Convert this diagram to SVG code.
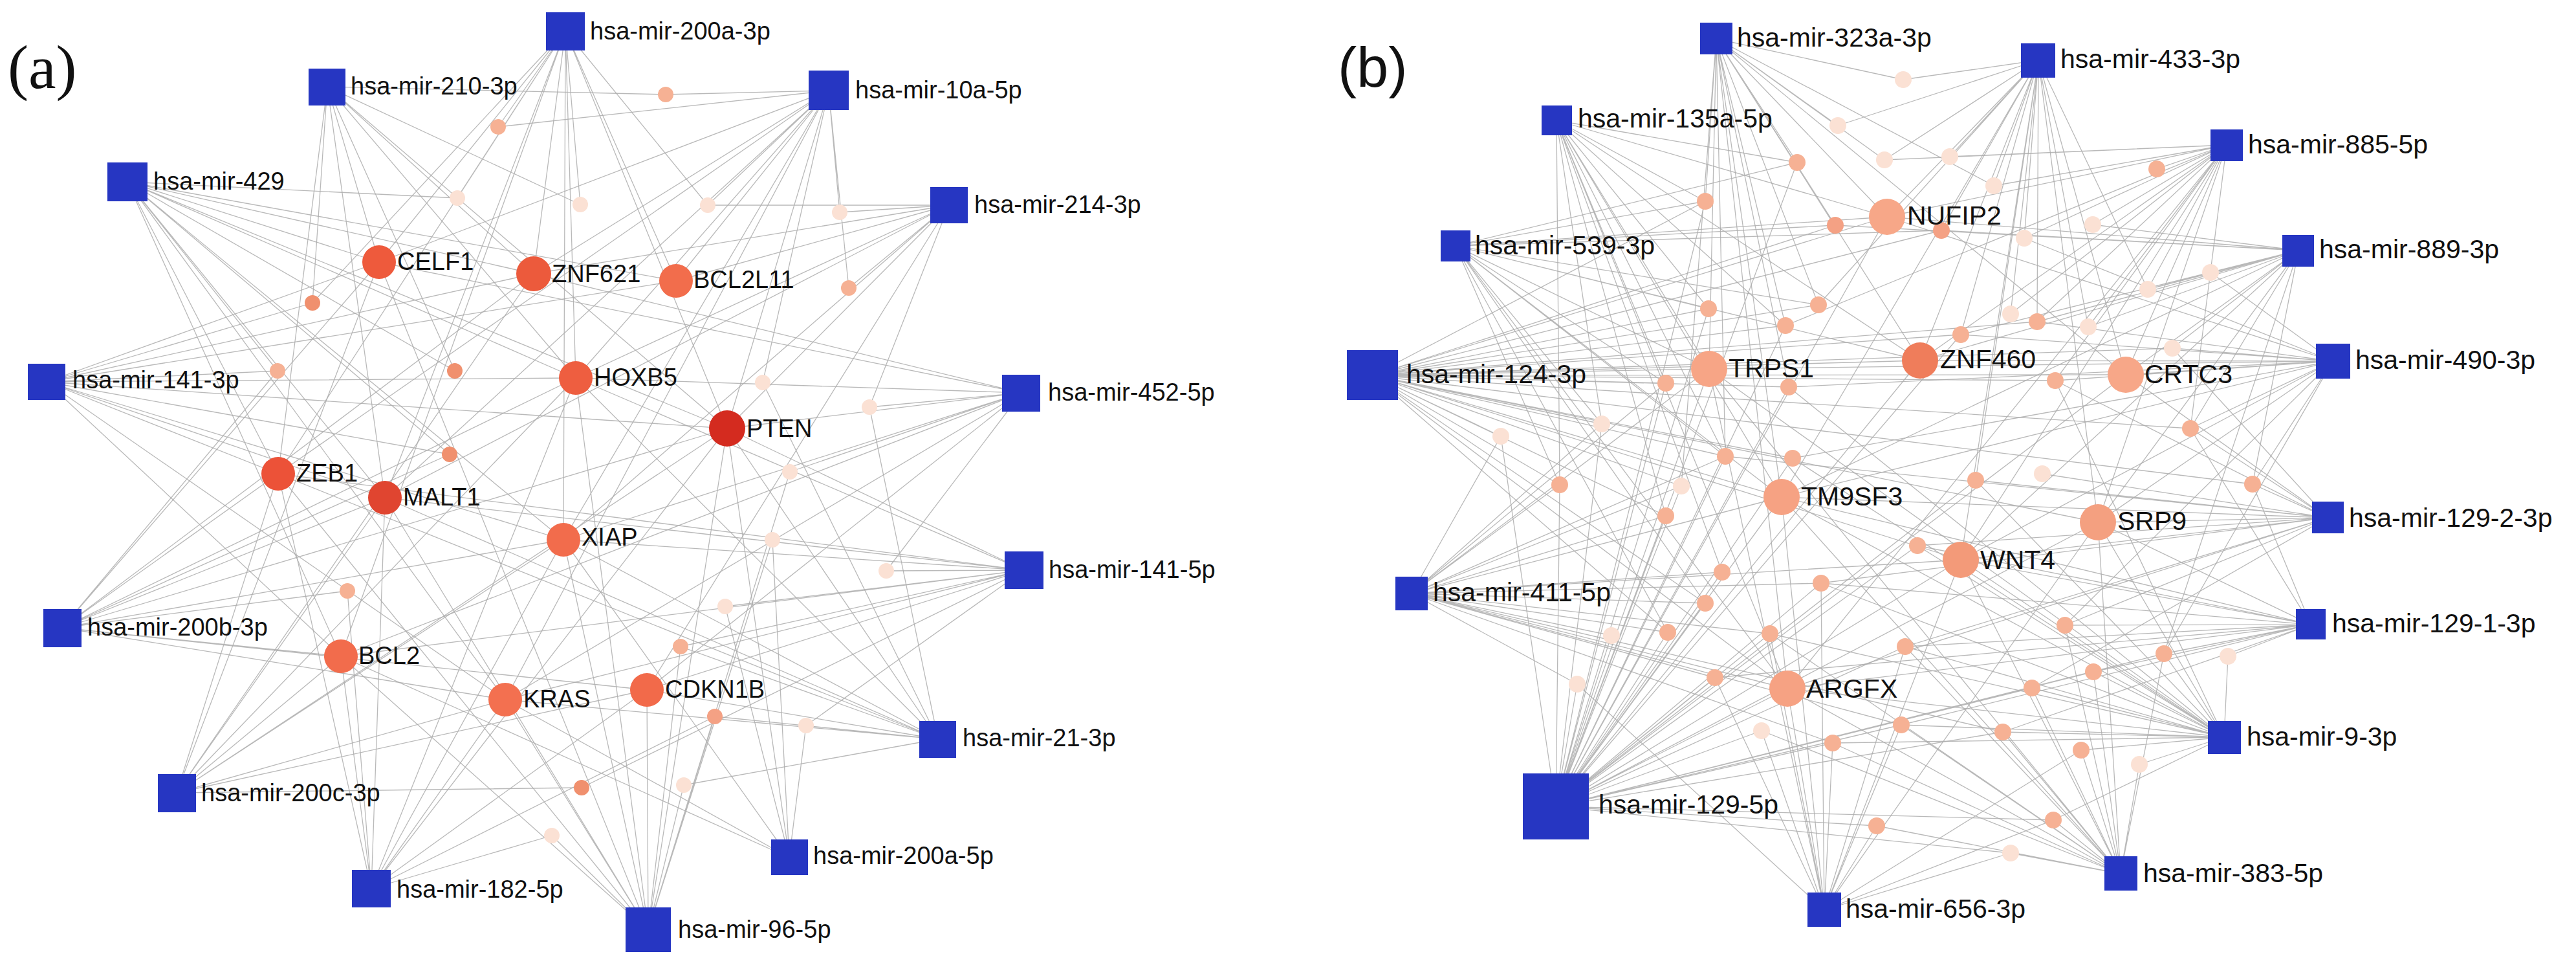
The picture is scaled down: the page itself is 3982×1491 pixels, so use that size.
<svg xmlns="http://www.w3.org/2000/svg" width="3982" height="1491" viewBox="0 0 3982 1491">
<style>
.e{stroke:#adadad;stroke-width:1.3;fill:none;opacity:.85}
.sq{fill:#2636c2}
.la{font-family:"Liberation Sans",Arial,sans-serif;font-size:38px;fill:#111}
.lb{font-family:"Liberation Sans",Arial,sans-serif;font-size:41px;fill:#111}
.vl{fill:#fbe1d4}.ls{fill:#f6b194}.sm{fill:#f0906e}.md{fill:#f4a184}
</style>
<rect width="3982" height="1491" fill="#fff"/>
<text x="12" y="136" font-family="Liberation Serif,Times New Roman,serif" font-size="96" fill="#111">(a)</text>
<text x="2068" y="134" font-family="Liberation Sans,Arial,sans-serif" font-size="88" fill="#111">(b)</text>
<g id="connectors">
<path class="e" d="M874 48L770 196M874 48L707 306M874 48L897 316M874 48L483 468M874 48L1094 317M874 48L586 405M874 48L825 423M874 48L1045 434M874 48L890 584M874 48L1124 662M874 48L430 732M874 48L595 769M874 48L871 834M874 48L527 1014"/>
<path class="e" d="M506 134L897 316M506 134L483 468M506 134L703 573M506 134L1029 146M506 134L586 405M506 134L825 423M506 134L890 584M506 134L1124 662M506 134L430 732M506 134L595 769"/>
<path class="e" d="M1281 140L770 196M1281 140L1029 146M1281 140L1094 317M1281 140L1298 328M1281 140L1312 445M1281 140L1179 591M1281 140L586 405M1281 140L825 423M1281 140L1045 434M1281 140L890 584M1281 140L1124 662M1281 140L430 732M1281 140L595 769M1281 140L871 834M1281 140L781 1081"/>
<path class="e" d="M197 281L707 306M197 281L429 573M197 281L703 573M197 281L695 702M197 281L586 405M197 281L825 423M197 281L1045 434M197 281L890 584M197 281L1124 662M197 281L430 732M197 281L595 769M197 281L871 834M197 281L527 1014M197 281L781 1081"/>
<path class="e" d="M1467 317L1094 317M1467 317L1298 328M1467 317L1312 445M1467 317L1344 629M1467 317L825 423M1467 317L1045 434M1467 317L890 584M1467 317L1124 662M1467 317L595 769M1467 317L871 834M1467 317L1000 1066"/>
<path class="e" d="M72 590L483 468M72 590L429 573M72 590L695 702M72 590L586 405M72 590L825 423M72 590L1045 434M72 590L890 584M72 590L1124 662M72 590L430 732M72 590L595 769M72 590L871 834M72 590L527 1014M72 590L781 1081"/>
<path class="e" d="M1579 607L1344 629M1579 607L1221 729M1579 607L1370 882M1579 607L586 405M1579 607L825 423M1579 607L890 584M1579 607L1124 662M1579 607L871 834M1579 607L527 1014M1579 607L781 1081M1579 607L1000 1066"/>
<path class="e" d="M1583 881L899 1217M1583 881L1370 882M1583 881L1121 937M1583 881L1052 999M1583 881L1246 1121M1583 881L890 584M1583 881L1124 662M1583 881L430 732M1583 881L595 769M1583 881L871 834M1583 881L527 1014M1583 881L781 1081M1583 881L1000 1066"/>
<path class="e" d="M96 970L429 573M96 970L695 702M96 970L537 913M96 970L586 405M96 970L825 423M96 970L890 584M96 970L1124 662M96 970L430 732M96 970L595 769M96 970L871 834M96 970L527 1014M96 970L781 1081M96 970L1000 1066"/>
<path class="e" d="M1450 1142L1179 591M1450 1142L1344 629M1450 1142L1052 999M1450 1142L1105 1107M1450 1142L1057 1213M1450 1142L890 584M1450 1142L1124 662M1450 1142L430 732M1450 1142L595 769M1450 1142L871 834M1450 1142L781 1081M1450 1142L1000 1066"/>
<path class="e" d="M273 1225L899 1217M273 1225L586 405M273 1225L825 423M273 1225L890 584M273 1225L1124 662M273 1225L430 732M273 1225L595 769M273 1225L871 834M273 1225L527 1014M273 1225L781 1081M273 1225L1000 1066"/>
<path class="e" d="M1220 1325L1194 834M1220 1325L1121 937M1220 1325L1246 1121M1220 1325L1124 662M1220 1325L871 834M1220 1325L527 1014M1220 1325L781 1081"/>
<path class="e" d="M574 1373L537 913M574 1373L853 1291M574 1373L1105 1107M574 1373L890 584M574 1373L1124 662M574 1373L430 732M574 1373L595 769M574 1373L871 834M574 1373L527 1014M574 1373L781 1081M574 1373L1000 1066"/>
<path class="e" d="M1002 1437L1221 729M1002 1437L853 1291M1002 1437L1194 834M1002 1437L1052 999M1002 1437L1105 1107M1002 1437L1057 1213M1002 1437L586 405M1002 1437L890 584M1002 1437L1124 662M1002 1437L430 732M1002 1437L595 769M1002 1437L871 834M1002 1437L527 1014M1002 1437L781 1081M1002 1437L1000 1066"/>
<path class="e" d="M2653 60L2942 123M2653 60L2841 194M2653 60L2778 251M2653 60L2913 247M2653 60L2636 311M2653 60L2837 348M2653 60L2811 471M2653 60L2760 503M2653 60L2765 598M2653 60L2667 705M2653 60L2599 751M2653 60L3082 287M2653 60L2917 335M2653 60L2642 570M2653 60L2968 557M2653 60L2754 768M2653 60L3286 579M2653 60L2763 1064"/>
<path class="e" d="M3151 93L2942 123M3151 93L2841 194M3151 93L2913 247M3151 93L3014 242M3151 93L3082 287M3151 93L3001 356M3151 93L3129 368M3151 93L3320 447M3151 93L3108 485M3151 93L3149 497M3151 93L3228 505M3151 93L3031 517M3151 93L2811 471M3151 93L3054 742M3151 93L2917 335M3151 93L2968 557M3151 93L2754 768M3151 93L3031 865M3151 93L3243 807M3151 93L3286 579"/>
<path class="e" d="M2406 186L2778 251M2406 186L2636 311M2406 186L2641 477M2406 186L2760 503M2406 186L2575 592M2406 186L2476 655M2406 186L2667 705M2406 186L2411 749M2406 186L2575 797M2406 186L2662 884M2406 186L2917 335M2406 186L2642 570M2406 186L2968 557M2406 186L2754 768M2406 186L2763 1064"/>
<path class="e" d="M3442 224L2913 247M3442 224L2760 503M3442 224L3014 242M3442 224L3082 287M3442 224L3334 261M3442 224L3235 347M3442 224L3129 368M3442 224L3320 447M3442 224L3108 485M3442 224L3149 497M3442 224L3228 505M3442 224L3177 588M3442 224L3386 662M3442 224L2917 335M3442 224L2968 557M3442 224L3286 579M3442 224L3031 865M3442 224L3243 807M3442 224L2763 1064"/>
<path class="e" d="M2250 380L2778 251M2250 380L2636 311M2250 380L2837 348M2250 380L2641 477M2250 380L2811 471M2250 380L2575 592M2250 380L2476 655M2250 380L2667 705M2250 380L2411 749M2250 380L3001 356M2250 380L2636 932M2250 380L2578 977M2250 380L2917 335M2250 380L2642 570M2250 380L2968 557M2250 380L2754 768M2250 380L2763 1064"/>
<path class="e" d="M3553 387L2837 348M3553 387L3001 356M3553 387L3235 347M3553 387L3417 421M3553 387L3320 447M3553 387L3149 497M3553 387L3228 505M3553 387L3031 517M3553 387L3358 538M3553 387L3386 662M3553 387L3482 748M3553 387L3345 1010M3553 387L2917 335M3553 387L2968 557M3553 387L3286 579M3553 387L3243 807M3553 387L3031 865M3553 387L2754 768"/>
<path class="e" d="M2122 580L2636 311M2122 580L2837 348M2122 580L2641 477M2122 580L2811 471M2122 580L2760 503M2122 580L2575 592M2122 580L2765 598M2122 580L2476 655M2122 580L2320 674M2122 580L2667 705M2122 580L2771 708M2122 580L2411 749M2122 580L2599 751M2122 580L3001 356M2122 580L3149 497M2122 580L3031 517M2122 580L3358 538M2122 580L3177 588M2122 580L3386 662M2122 580L3482 748M2122 580L2575 797M2122 580L2636 932M2122 580L2578 977M2122 580L2917 335M2122 580L2642 570M2122 580L2968 557M2122 580L3286 579M2122 580L2754 768M2122 580L3031 865M2122 580L3243 807M2122 580L2763 1064"/>
<path class="e" d="M3606 558L2765 598M3606 558L2771 708M3606 558L3129 368M3606 558L3417 421M3606 558L3149 497M3606 558L3031 517M3606 558L3358 538M3606 558L3177 588M3606 558L3386 662M3606 558L3482 748M3606 558L3192 966M3606 558L3345 1010M3606 558L2917 335M3606 558L2642 570M3606 558L2968 557M3606 558L3286 579M3606 558L2754 768M3606 558L3243 807M3606 558L3031 865"/>
<path class="e" d="M3598 800L2667 705M3598 800L3358 538M3598 800L3177 588M3598 800L3386 662M3598 800L3054 742M3598 800L3157 732M3598 800L3482 748M3598 800L2964 843M3598 800L2815 901M3598 800L2945 999M3598 800L3192 966M3598 800L3141 1063M3598 800L3286 579M3598 800L2754 768M3598 800L3243 807M3598 800L3031 865M3598 800L2763 1064"/>
<path class="e" d="M2182 917L2575 592M2182 917L2476 655M2182 917L2320 674M2182 917L2667 705M2182 917L2411 749M2182 917L2599 751M2182 917L2575 797M2182 917L2662 884M2182 917L2815 901M2182 917L2636 932M2182 917L2491 982M2182 917L2578 977M2182 917L2736 979M2182 917L2438 1057M2182 917L2651 1047M2182 917L2939 1120M2182 917L2833 1148M2182 917L3096 1131M2182 917L2642 570M2182 917L2754 768M2182 917L3031 865M2182 917L2763 1064"/>
<path class="e" d="M3572 965L3386 662M3572 965L3482 748M3572 965L2964 843M3572 965L2815 901M3572 965L2945 999M3572 965L2651 1047M3572 965L2939 1120M3572 965L3192 966M3572 965L3345 1010M3572 965L3444 1014M3572 965L3236 1038M3572 965L3096 1131M3572 965L2754 768M3572 965L3243 807M3572 965L3031 865M3572 965L2763 1064"/>
<path class="e" d="M3438 1139L2765 598M3438 1139L2771 708M3438 1139L3177 588M3438 1139L3054 742M3438 1139L2964 843M3438 1139L2815 901M3438 1139L2736 979M3438 1139L2945 999M3438 1139L2939 1120M3438 1139L2833 1148M3438 1139L3345 1010M3438 1139L3444 1014M3438 1139L3236 1038M3438 1139L3141 1063M3438 1139L3096 1131M3438 1139L3217 1159M3438 1139L3307 1181M3438 1139L3174 1267M3438 1139L2642 570M3438 1139L2754 768M3438 1139L3243 807M3438 1139L3031 865M3438 1139L2763 1064"/>
<path class="e" d="M2405 1246L2778 251M2405 1246L2636 311M2405 1246L2641 477M2405 1246L2760 503M2405 1246L2575 592M2405 1246L2765 598M2405 1246L2476 655M2405 1246L2320 674M2405 1246L2667 705M2405 1246L2771 708M2405 1246L2411 749M2405 1246L2599 751M2405 1246L3031 517M2405 1246L3054 742M2405 1246L2575 797M2405 1246L2964 843M2405 1246L2662 884M2405 1246L2815 901M2405 1246L2636 932M2405 1246L2491 982M2405 1246L2578 977M2405 1246L2736 979M2405 1246L2945 999M2405 1246L2438 1057M2405 1246L2651 1047M2405 1246L2723 1129M2405 1246L2939 1120M2405 1246L2833 1148M2405 1246L2901 1276M2405 1246L3345 1010M2405 1246L3236 1038M2405 1246L3141 1063M2405 1246L3096 1131M2405 1246L3174 1267M2405 1246L3108 1318M2405 1246L2917 335M2405 1246L2642 570M2405 1246L2968 557M2405 1246L3286 579M2405 1246L2754 768M2405 1246L3243 807M2405 1246L3031 865M2405 1246L2763 1064"/>
<path class="e" d="M3278 1350L2736 979M3278 1350L2945 999M3278 1350L2723 1129M3278 1350L2939 1120M3278 1350L2833 1148M3278 1350L2901 1276M3278 1350L3192 966M3278 1350L3345 1010M3278 1350L3236 1038M3278 1350L3141 1063M3278 1350L3096 1131M3278 1350L3217 1159M3278 1350L3307 1181M3278 1350L3174 1267M3278 1350L3108 1318M3278 1350L2642 570M3278 1350L2754 768M3278 1350L3243 807M3278 1350L3031 865M3278 1350L2763 1064"/>
<path class="e" d="M2820 1406L2815 901M2820 1406L2736 979M2820 1406L2945 999M2820 1406L2438 1057M2820 1406L2651 1047M2820 1406L2723 1129M2820 1406L2939 1120M2820 1406L2833 1148M2820 1406L2901 1276M2820 1406L3217 1159M2820 1406L3174 1267M2820 1406L3108 1318M2820 1406L2642 570M2820 1406L2754 768M2820 1406L3243 807M2820 1406L3031 865M2820 1406L2763 1064"/>
</g>
<g id="small-a">
<circle class="ls" cx="770" cy="196" r="12"/><circle class="vl" cx="707" cy="306" r="12"/><circle class="vl" cx="897" cy="316" r="12"/><circle class="sm" cx="483" cy="468" r="12"/><circle class="ls" cx="429" cy="573" r="12"/><circle class="sm" cx="703" cy="573" r="12"/><circle class="sm" cx="695" cy="702" r="12"/><circle class="ls" cx="1029" cy="146" r="12"/><circle class="vl" cx="1094" cy="317" r="12"/><circle class="vl" cx="1298" cy="328" r="12"/><circle class="ls" cx="1312" cy="445" r="12"/><circle class="vl" cx="1179" cy="591" r="12"/><circle class="vl" cx="1344" cy="629" r="12"/><circle class="vl" cx="1221" cy="729" r="12"/><circle class="ls" cx="537" cy="913" r="12"/><circle class="sm" cx="899" cy="1217" r="12"/><circle class="vl" cx="853" cy="1291" r="12"/><circle class="vl" cx="1194" cy="834" r="12"/><circle class="vl" cx="1370" cy="882" r="12"/><circle class="vl" cx="1121" cy="937" r="12"/><circle class="ls" cx="1052" cy="999" r="12"/><circle class="md" cx="1105" cy="1107" r="12"/><circle class="vl" cx="1246" cy="1121" r="12"/><circle class="vl" cx="1057" cy="1213" r="12"/>
</g>
<g id="small-b">
<circle class="vl" cx="2942" cy="123" r="13"/><circle class="vl" cx="2841" cy="194" r="13"/><circle class="ls" cx="2778" cy="251" r="13"/><circle class="vl" cx="2913" cy="247" r="13"/><circle class="ls" cx="2636" cy="311" r="13"/><circle class="md" cx="2837" cy="348" r="13"/><circle class="ls" cx="2641" cy="477" r="13"/><circle class="ls" cx="2811" cy="471" r="13"/><circle class="ls" cx="2760" cy="503" r="13"/><circle class="ls" cx="2575" cy="592" r="13"/><circle class="ls" cx="2765" cy="598" r="13"/><circle class="vl" cx="2476" cy="655" r="13"/><circle class="vl" cx="2320" cy="674" r="13"/><circle class="ls" cx="2667" cy="705" r="13"/><circle class="ls" cx="2771" cy="708" r="13"/><circle class="ls" cx="2411" cy="749" r="13"/><circle class="vl" cx="2599" cy="751" r="13"/><circle class="vl" cx="3014" cy="242" r="13"/><circle class="vl" cx="3082" cy="287" r="13"/><circle class="ls" cx="3334" cy="261" r="13"/><circle class="md" cx="3001" cy="356" r="13"/><circle class="vl" cx="3235" cy="347" r="13"/><circle class="vl" cx="3129" cy="368" r="13"/><circle class="vl" cx="3417" cy="421" r="13"/><circle class="vl" cx="3320" cy="447" r="13"/><circle class="vl" cx="3108" cy="485" r="13"/><circle class="ls" cx="3149" cy="497" r="13"/><circle class="vl" cx="3228" cy="505" r="13"/><circle class="ls" cx="3031" cy="517" r="13"/><circle class="vl" cx="3358" cy="538" r="13"/><circle class="ls" cx="3177" cy="588" r="13"/><circle class="ls" cx="3386" cy="662" r="13"/><circle class="ls" cx="3054" cy="742" r="13"/><circle class="vl" cx="3157" cy="732" r="13"/><circle class="ls" cx="3482" cy="748" r="13"/><circle class="ls" cx="2575" cy="797" r="13"/><circle class="ls" cx="2964" cy="843" r="13"/><circle class="ls" cx="2662" cy="884" r="13"/><circle class="ls" cx="2815" cy="901" r="13"/><circle class="ls" cx="2636" cy="932" r="13"/><circle class="vl" cx="2491" cy="982" r="13"/><circle class="ls" cx="2578" cy="977" r="13"/><circle class="ls" cx="2736" cy="979" r="13"/><circle class="ls" cx="2945" cy="999" r="13"/><circle class="vl" cx="2438" cy="1057" r="13"/><circle class="ls" cx="2651" cy="1047" r="13"/><circle class="vl" cx="2723" cy="1129" r="13"/><circle class="ls" cx="2939" cy="1120" r="13"/><circle class="ls" cx="2833" cy="1148" r="13"/><circle class="ls" cx="2901" cy="1276" r="13"/><circle class="ls" cx="3192" cy="966" r="13"/><circle class="ls" cx="3345" cy="1010" r="13"/><circle class="vl" cx="3444" cy="1014" r="13"/><circle class="ls" cx="3236" cy="1038" r="13"/><circle class="ls" cx="3141" cy="1063" r="13"/><circle class="ls" cx="3096" cy="1131" r="13"/><circle class="ls" cx="3217" cy="1159" r="13"/><circle class="vl" cx="3307" cy="1181" r="13"/><circle class="ls" cx="3174" cy="1267" r="13"/><circle class="vl" cx="3108" cy="1318" r="13"/>
</g>
<g id="CELF1"><circle cx="586" cy="405" r="26" fill="#ee5a3c"/><text class="la" x="614" y="417">CELF1</text></g>
<g id="ZNF621"><circle cx="825" cy="423" r="27" fill="#ec5a3c"/><text class="la" x="853" y="436">ZNF621</text></g>
<g id="BCL2L11"><circle cx="1045" cy="434" r="26" fill="#f26d4c"/><text class="la" x="1072" y="445">BCL2L11</text></g>
<g id="HOXB5"><circle cx="890" cy="584" r="26" fill="#ee5e40"/><text class="la" x="918" y="596">HOXB5</text></g>
<g id="PTEN"><circle cx="1124" cy="662" r="28" fill="#d42b1f"/><text class="la" x="1154" y="675">PTEN</text></g>
<g id="ZEB1"><circle cx="430" cy="732" r="26" fill="#ec5238"/><text class="la" x="458" y="744">ZEB1</text></g>
<g id="MALT1"><circle cx="595" cy="769" r="26" fill="#e04530"/><text class="la" x="623" y="781">MALT1</text></g>
<g id="XIAP"><circle cx="871" cy="834" r="26" fill="#f26c4c"/><text class="la" x="899" y="843">XIAP</text></g>
<g id="BCL2"><circle cx="527" cy="1014" r="26" fill="#f26c4c"/><text class="la" x="554" y="1026">BCL2</text></g>
<g id="KRAS"><circle cx="781" cy="1081" r="26" fill="#f37050"/><text class="la" x="809" y="1093">KRAS</text></g>
<g id="CDKN1B"><circle cx="1000" cy="1066" r="26" fill="#f26a4a"/><text class="la" x="1028" y="1078">CDKN1B</text></g>
<g id="mir-200a-3p"><rect class="sq" x="844" y="19" width="60" height="59"/><text class="la" x="912" y="61">hsa-mir-200a-3p</text></g>
<g id="mir-210-3p"><rect class="sq" x="477" y="106" width="57" height="57"/><text class="la" x="542" y="146">hsa-mir-210-3p</text></g>
<g id="mir-10a-5p"><rect class="sq" x="1250" y="109" width="62" height="61"/><text class="la" x="1322" y="152">hsa-mir-10a-5p</text></g>
<g id="mir-429"><rect class="sq" x="166" y="251" width="62" height="60"/><text class="la" x="237" y="293">hsa-mir-429</text></g>
<g id="mir-214-3p"><rect class="sq" x="1438" y="289" width="58" height="56"/><text class="la" x="1506" y="329">hsa-mir-214-3p</text></g>
<g id="mir-141-3p"><rect class="sq" x="43" y="562" width="58" height="56"/><text class="la" x="112" y="600">hsa-mir-141-3p</text></g>
<g id="mir-452-5p"><rect class="sq" x="1549" y="579" width="59" height="57"/><text class="la" x="1620" y="619">hsa-mir-452-5p</text></g>
<g id="mir-141-5p"><rect class="sq" x="1553" y="852" width="60" height="58"/><text class="la" x="1621" y="893">hsa-mir-141-5p</text></g>
<g id="mir-200b-3p"><rect class="sq" x="67" y="941" width="59" height="59"/><text class="la" x="135" y="982">hsa-mir-200b-3p</text></g>
<g id="mir-21-3p"><rect class="sq" x="1421" y="1114" width="57" height="57"/><text class="la" x="1488" y="1153">hsa-mir-21-3p</text></g>
<g id="mir-200c-3p"><rect class="sq" x="244" y="1196" width="59" height="59"/><text class="la" x="311" y="1238">hsa-mir-200c-3p</text></g>
<g id="mir-200a-5p"><rect class="sq" x="1192" y="1297" width="57" height="55"/><text class="la" x="1257" y="1335">hsa-mir-200a-5p</text></g>
<g id="mir-182-5p"><rect class="sq" x="544" y="1344" width="60" height="58"/><text class="la" x="613" y="1387">hsa-mir-182-5p</text></g>
<g id="mir-96-5p"><rect class="sq" x="967" y="1402" width="70" height="69"/><text class="la" x="1048" y="1449">hsa-mir-96-5p</text></g>
<g id="NUFIP2"><circle cx="2917" cy="335" r="28" fill="#f7a788"/><text class="lb" x="2948" y="347">NUFIP2</text></g>
<g id="TRPS1"><circle cx="2642" cy="570" r="28" fill="#f7a586"/><text class="lb" x="2672" y="583">TRPS1</text></g>
<g id="ZNF460"><circle cx="2968" cy="557" r="28" fill="#ef7d5b"/><text class="lb" x="2999" y="569">ZNF460</text></g>
<g id="CRTC3"><circle cx="3286" cy="579" r="28" fill="#f7a788"/><text class="lb" x="3315" y="592">CRTC3</text></g>
<g id="TM9SF3"><circle cx="2754" cy="768" r="28" fill="#f6a283"/><text class="lb" x="2784" y="781">TM9SF3</text></g>
<g id="SRP9"><circle cx="3243" cy="807" r="28" fill="#f4a080"/><text class="lb" x="3273" y="819">SRP9</text></g>
<g id="WNT4"><circle cx="3031" cy="865" r="28" fill="#f39a79"/><text class="lb" x="3061" y="879">WNT4</text></g>
<g id="ARGFX"><circle cx="2763" cy="1064" r="28" fill="#f6a283"/><text class="lb" x="2792" y="1078">ARGFX</text></g>
<g id="mir-323a-3p"><rect class="sq" x="2628" y="35" width="50" height="49"/><text class="lb" x="2685" y="72">hsa-mir-323a-3p</text></g>
<g id="mir-433-3p"><rect class="sq" x="3124" y="67" width="53" height="53"/><text class="lb" x="3185" y="105">hsa-mir-433-3p</text></g>
<g id="mir-135a-5p"><rect class="sq" x="2383" y="163" width="47" height="46"/><text class="lb" x="2439" y="197">hsa-mir-135a-5p</text></g>
<g id="mir-885-5p"><rect class="sq" x="3417" y="200" width="50" height="49"/><text class="lb" x="3475" y="237">hsa-mir-885-5p</text></g>
<g id="mir-539-3p"><rect class="sq" x="2227" y="356" width="46" height="48"/><text class="lb" x="2280" y="393">hsa-mir-539-3p</text></g>
<g id="mir-889-3p"><rect class="sq" x="3528" y="363" width="49" height="49"/><text class="lb" x="3585" y="399">hsa-mir-889-3p</text></g>
<g id="mir-124-3p"><rect class="sq" x="2082" y="541" width="79" height="77"/><text class="lb" x="2174" y="592">hsa-mir-124-3p</text></g>
<g id="mir-490-3p"><rect class="sq" x="3580" y="531" width="53" height="54"/><text class="lb" x="3641" y="570">hsa-mir-490-3p</text></g>
<g id="mir-129-2-3p"><rect class="sq" x="3574" y="775" width="49" height="49"/><text class="lb" x="3631" y="814">hsa-mir-129-2-3p</text></g>
<g id="mir-411-5p"><rect class="sq" x="2157" y="891" width="50" height="52"/><text class="lb" x="2215" y="929">hsa-mir-411-5p</text></g>
<g id="mir-129-1-3p"><rect class="sq" x="3549" y="941" width="46" height="47"/><text class="lb" x="3605" y="977">hsa-mir-129-1-3p</text></g>
<g id="mir-9-3p"><rect class="sq" x="3413" y="1114" width="51" height="51"/><text class="lb" x="3473" y="1152">hsa-mir-9-3p</text></g>
<g id="mir-129-5p"><rect class="sq" x="2354" y="1195" width="102" height="102"/><text class="lb" x="2471" y="1257">hsa-mir-129-5p</text></g>
<g id="mir-383-5p"><rect class="sq" x="3253" y="1323" width="51" height="53"/><text class="lb" x="3313" y="1363">hsa-mir-383-5p</text></g>
<g id="mir-656-3p"><rect class="sq" x="2794" y="1379" width="52" height="53"/><text class="lb" x="2853" y="1418">hsa-mir-656-3p</text></g>
</svg>
